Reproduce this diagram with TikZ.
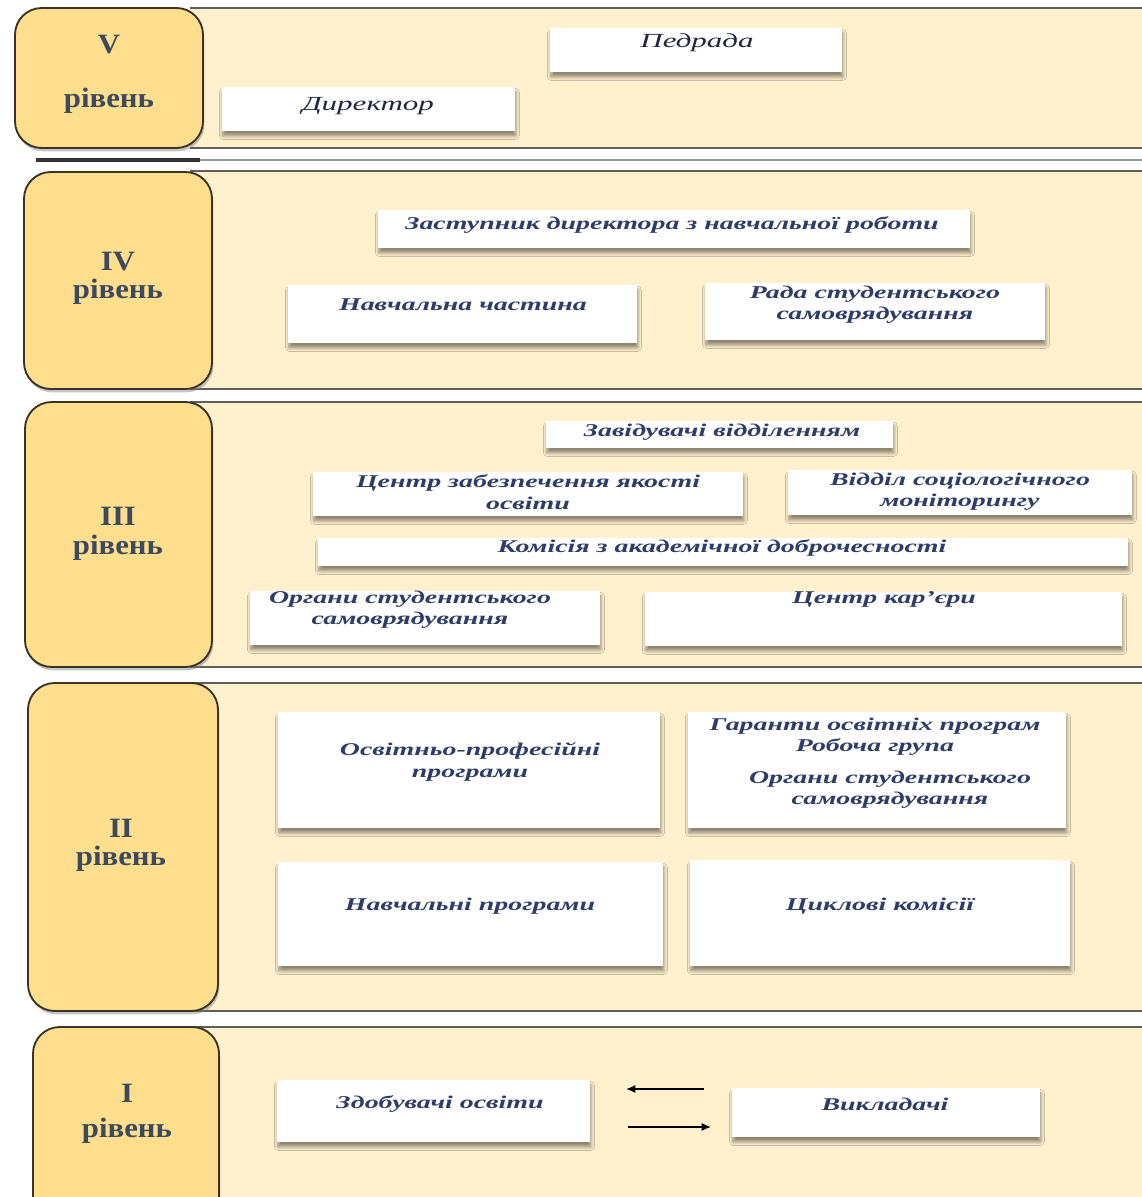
\documentclass[tikz,border=0pt]{standalone}
\usepackage{fontspec}
\setmainfont{Liberation Serif}
\newfontfamily\lblfont[FakeStretch=1.1]{Liberation Serif}
\newfontfamily\boxfont[FakeStretch=1.55]{Liberation Serif}
\usetikzlibrary{shadows,shadows.blur,arrows.meta}
\definecolor{bandfill}{HTML}{FFF0CE}
\definecolor{lblfill}{HTML}{FFDF8E}
\definecolor{lbldraw}{HTML}{3B3424}
\definecolor{lbltext}{HTML}{3C4A5E}
\definecolor{boxtext}{HTML}{2D3C68}
\definecolor{toptext}{HTML}{1F2742}
\definecolor{bandline}{HTML}{5E5E5A}
\definecolor{shadowline}{HTML}{8E9AA2}
\tikzset{
  bandfillstyle/.style={fill=bandfill, draw=none},
  bandedge/.style={draw=bandline, line width=1.3pt},
  lblbox/.style={fill=lblfill, draw=lbldraw, line width=1.4pt, rounded corners=20pt,
     drop shadow={shadow xshift=1pt, shadow yshift=-2.5pt, opacity=0.45}},
  wbox/.style={fill=white, draw=none, inner sep=0pt,
     blur shadow={shadow xshift=0.5pt, shadow yshift=-3.5pt, shadow blur steps=8, shadow blur radius=2.5pt, shadow opacity=45}},
  lbltxt/.style={font=\lblfont\bfseries\fontsize{21}{24}\selectfont, text=lbltext, inner sep=0pt},
  btxt/.style={font=\boxfont\bfseries\itshape\fontsize{13.5}{16}\selectfont, text=boxtext, inner sep=0pt},
  ttxt/.style={font=\boxfont\itshape\fontsize{15}{18}\selectfont, text=toptext, inner sep=0pt},
  itxt/.style={font=\boxfont\itshape\bfseries\fontsize{13.5}{16}\selectfont, text=boxtext, inner sep=0pt},
  arr/.style={-{Latex[length=7pt,width=6pt]}, line width=1.1pt, draw=black}
}
\newcommand\mkbox[5]{\node[wbox, anchor=north west, minimum width={(#4-#2)*0.75pt}, minimum height={(#5-#3)*0.75pt}] (#1) at (#2,#3) {};}
\newcommand\mkband[2]{%
  \path[bandfillstyle] (190,#1) rectangle (1142,#2);
  \draw[bandedge] (190,#1) -- (1142,#1);
  \draw[bandedge] (190,#2) -- (1142,#2);}
\newcommand\mklbl[5]{\draw[lblbox] (#2,#3) rectangle (#4,#5);}
\begin{document}
\begin{tikzpicture}[x=0.75pt,y=-0.75pt]
\useasboundingbox[fill=white] (0,0) rectangle (1142,1197);
% bands
\mkband{8}{148}
\draw[shadowline, line width=1.5pt] (36,160) -- (1142,160);
\draw[black!80, line width=2.5pt] (36,160) -- (200,160);
\mkband{171}{389}
\mkband{402}{667}
\mkband{683}{1011}
\mkband{1027}{1230}
% level labels
\mklbl{lv}{15}{8}{203}{148}
\mklbl{liv}{24}{172}{212}{389}
\mklbl{liii}{25}{402}{212}{667}
\mklbl{lii}{28}{683}{218}{1011}
\mklbl{li}{33}{1027}{219}{1240}
\node[lbltxt] (lv1) at (109,45) {V};
\node[lbltxt] (lv2) at (109,101) {рівень};
\node[lbltxt] (liv1) at (118,262) {IV};
\node[lbltxt] (liv2) at (118,292) {рівень};
\node[lbltxt] (liii1) at (118,516) {III};
\node[lbltxt] (liii2) at (118,548) {рівень};
\node[lbltxt] (lii1) at (121,828) {II};
\node[lbltxt] (lii2) at (121,859) {рівень};
\node[lbltxt] (li1) at (127,1093) {I};
\node[lbltxt] (li2) at (127,1131) {рівень};
% level V
\mkbox{pedrada}{550}{28}{842}{72}
\node[ttxt] (pedrada-t) at (697,43) {Педрада};
\mkbox{dyr}{222}{87}{515}{131}
\node[ttxt] (dyr-t) at (368,106) {Директор};
% level IV
\mkbox{zast}{378}{210}{970}{248}
\node[btxt] (zast-t) at (672,225) {Заступник директора з навчальної роботи};
\mkbox{nch}{288}{285}{637}{343}
\node[btxt] (nch-t) at (463,305) {Навчальна частина};
\mkbox{rada}{705}{283}{1045}{340}
\node[btxt, align=center] (rada-t) at (875,305) {Рада студентського\\самоврядування};
% level III
\mkbox{zav}{546}{421}{893}{448}
\node[btxt] (zav-t) at (722,432) {Завідувачі відділенням};
\mkbox{czo}{313}{472}{743}{516}
\node[btxt, align=center] (czo-t) at (528,492) {Центр забезпечення якості\\освіти};
\mkbox{vsm}{788}{470}{1132}{515}
\node[btxt, align=center] (vsm-t) at (960,492) {Відділ соціологічного\\моніторингу};
\mkbox{kad}{318}{538}{1128}{566}
\node[btxt] (kad-t) at (722,548) {Комісія з академічної доброчесності};
\mkbox{oss}{250}{591}{600}{645}
\node[btxt, align=center] (oss-t) at (410,610) {Органи студентського\\самоврядування};
\mkbox{ckar}{645}{592}{1122}{646}
\node[btxt] (ckar-t) at (884,599) {Центр кар’єри};
% level II
\mkbox{opp}{278}{712}{660}{828}
\node[btxt, align=center] (opp-t) at (470,762) {Освітньо-професійні\\програми};
\mkbox{gar}{688}{712}{1066}{828}
\node[btxt, align=center] (gar-t1) at (875,737) {Гаранти освітніх програм\\Робоча група};
\node[btxt, align=center] (gar-t2) at (890,790) {Органи студентського\\самоврядування};
\mkbox{np}{278}{862}{663}{966}
\node[btxt] (np-t) at (470,906) {Навчальні програми};
\mkbox{ck}{690}{860}{1070}{966}
\node[btxt] (ck-t) at (880,906) {Циклові комісії};
% level I
\mkbox{zdob}{277}{1080}{590}{1142}
\node[itxt] (zdob-t) at (440,1104) {Здобувачі освіти};
\mkbox{vykl}{732}{1088}{1040}{1137}
\node[itxt] (vykl-t) at (885,1104) {Викладачі};
\coordinate (a1s) at (704,1089);
\coordinate (a1e) at (626,1089);
\coordinate (a2s) at (628,1127);
\coordinate (a2e) at (711,1127);
\draw[arr] (a1s) -- (a1e);
\draw[arr] (a2s) -- (a2e);
\end{tikzpicture}
\end{document}
